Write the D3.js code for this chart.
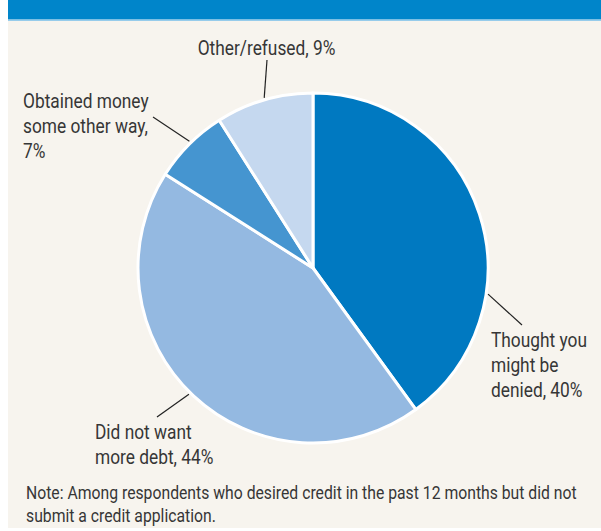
<!DOCTYPE html>
<html>
<head>
<meta charset="utf-8">
<script src="https://cdn.jsdelivr.net/npm/d3@7/dist/d3.min.js"></script>
<style>
  html, body { margin: 0; padding: 0; background: #ffffff; }
  svg { display: block; }
  text { font-family: "Roboto", "Liberation Sans", sans-serif; fill: #363636; }
</style>
</head>
<body>
<svg id="chart" width="601" height="531"></svg>
<script>
// ---- data ----
const categories = ["Thought you might be denied", "Did not want more debt", "Obtained money some other way", "Other/refused"];
const values = [40, 44, 7, 9];
const labelLines = [
  ["Thought you", "might be", "denied, 40%"],
  ["Did not want", "more debt, 44%"],
  ["Obtained money", "some other way,", "7%"],
  ["Other/refused, 9%"]
];
const colors = ["#0079c1", "#94b9e1", "#4595d0", "#c5d8ef"];
const noteLines = [
  "Note: Among respondents who desired credit in the past 12 months but did not",
  "submit a credit application."
];

// ---- layout ----
const svg = d3.select("#chart");
const W = 601, H = 531;
const cx = 313, cy = 268, R = 175;
const kLabel = 0.845;   // horizontal condensing of label font
const noteWidth = 551;  // width of first note line

// background panel + header
svg.append("rect").attr("x", 8).attr("y", 0).attr("width", W - 8).attr("height", 528).attr("fill", "#f7f4ee");
svg.append("rect").attr("x", 8).attr("y", 0).attr("width", W - 8).attr("height", 19.5).attr("fill", "#0085ca");
svg.append("rect").attr("x", 8).attr("y", 19.5).attr("width", W - 8).attr("height", 1.3).attr("fill", "#7fc2ea");

const g = svg.append("g").attr("transform", `translate(${cx},${cy})`);

const pie = d3.pie().sort(null).value(d => d.value);
const arcs = pie(categories.map((c, i) => ({ name: c, value: values[i], color: colors[i] })));
const arc = d3.arc().innerRadius(0).outerRadius(R);

g.selectAll("path.slice").data(arcs).join("path")
  .attr("class", "slice")
  .attr("d", arc)
  .attr("fill", d => d.data.color)
  .attr("stroke", "#ffffff")
  .attr("stroke-width", 3)
  .attr("stroke-linejoin", "round");

// labels (layout configuration)
const labelLayout = [
  { angle: 98.5, end: [522, 325], x: 491, y: 347, anchor: "start" },
  { angle: 224.5, end: [157, 417], x: 95, y: 439, anchor: "start" },
  { angle: 315.7, end: [153, 117], x: 23, y: 108, anchor: "start" },
  { angle: 344, end: [267, 60], x: 266.5, y: 55, anchor: "middle" }
];
const lineH = 25;

labelLayout.forEach((L, i) => {
  const a = L.angle * Math.PI / 180;
  const sx = cx + Math.sin(a) * (R + 2);
  const sy = cy - Math.cos(a) * (R + 2);
  svg.append("line")
    .attr("x1", sx).attr("y1", sy)
    .attr("x2", L.end[0]).attr("y2", L.end[1])
    .attr("stroke", "#222").attr("stroke-width", 1.2);
  const t = svg.append("text")
    .attr("transform", `translate(${L.x},${L.y}) scale(${kLabel},1)`)
    .attr("text-anchor", L.anchor)
    .attr("font-size", 20.5);
  labelLines[i].forEach((ln, j) => {
    t.append("tspan").attr("x", 0).attr("y", j * lineH).text(ln);
  });
});

// note
const note = svg.append("text").attr("font-size", 17.5);
noteLines.forEach((ln, j) => {
  note.append("tspan").attr("x", 0).attr("y", j * 23).text(ln);
});
const w0 = note.select("tspan").node().getComputedTextLength();
note.attr("transform", `translate(26,499) scale(${noteWidth / w0},1)`);
</script>
</body>
</html>
